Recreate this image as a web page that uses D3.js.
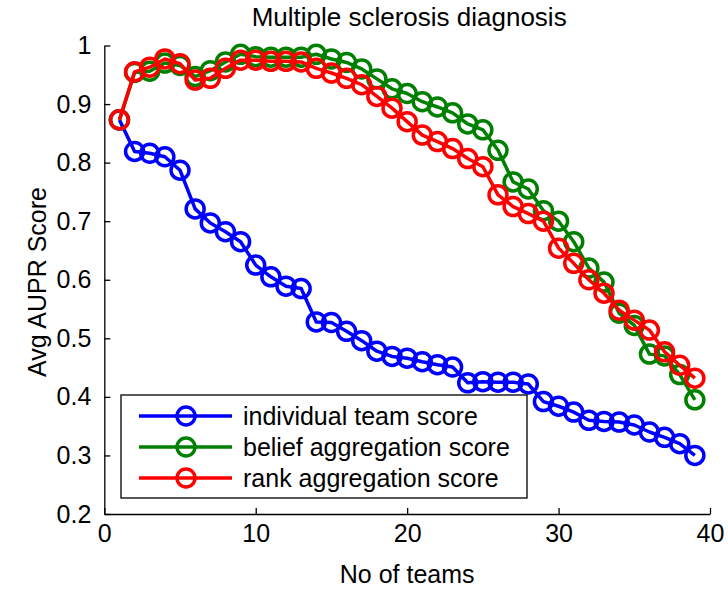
<!DOCTYPE html>
<html>
<head>
<meta charset="utf-8">
<script src="https://cdn.jsdelivr.net/npm/d3@7"></script>
<style>
  html, body { margin: 0; padding: 0; background: #fff; }
  svg text { font-family: "Liberation Sans", Arial, Helvetica, sans-serif; fill: #000; }
</style>
</head>
<body>
<svg id="chart" width="728" height="589"></svg>
<script>
// Number of teams aggregated (x values)
const teams = d3.range(1, 40);

// Average AUPR score per number of teams
const individualScore = [0.873,0.819,0.816,0.810,0.787,0.721,0.697,0.682,0.665,0.625,
  0.605,0.589,0.585,0.528,0.527,0.512,0.496,0.478,0.469,0.466,
  0.460,0.455,0.451,0.424,0.426,0.425,0.425,0.422,0.392,0.384,
  0.374,0.360,0.358,0.357,0.352,0.340,0.331,0.320,0.300];

const beliefScore = [0.873,0.954,0.956,0.970,0.966,0.947,0.957,0.972,0.985,0.981,
  0.980,0.980,0.980,0.985,0.977,0.971,0.960,0.943,0.926,0.918,
  0.904,0.895,0.885,0.866,0.856,0.821,0.767,0.755,0.718,0.700,
  0.665,0.620,0.596,0.543,0.522,0.473,0.470,0.438,0.395];

const rankScore = [0.873,0.955,0.963,0.977,0.969,0.941,0.944,0.961,0.975,0.975,
  0.973,0.973,0.972,0.961,0.953,0.944,0.933,0.913,0.893,0.870,
  0.847,0.836,0.824,0.807,0.793,0.745,0.725,0.713,0.700,0.654,
  0.628,0.600,0.577,0.548,0.531,0.514,0.477,0.454,0.432];

const seriesNames = ["individual team score", "belief aggregation score", "rank aggregation score"];
const seriesColors = ["#0000ff", "#008000", "#ff0000"];

const xTicks = [0, 10, 20, 30, 40];
const yTicks = [0.2, 0.3, 0.4, 0.5, 0.6, 0.7, 0.8, 0.9, 1];

const titleText = "Multiple sclerosis diagnosis";
const xLabel = "No of teams";
const yLabel = "Avg AUPR Score";

const series = [individualScore, beliefScore, rankScore].map((vals, i) => ({
  name: seriesNames[i],
  color: seriesColors[i],
  points: teams.map((t, j) => ({ x: t, y: vals[j] }))
}));

const svg = d3.select("#chart");

const plot = { left: 104.3, right: 710, top: 45.5, bottom: 514 };
const x = d3.scaleLinear().domain([0, 40]).range([plot.left, plot.right]);
const y = d3.scaleLinear().domain([0.2, 1]).range([plot.bottom, plot.top]);

// Axes: inward ticks, no box on top/right
const xAxis = d3.axisBottom(x).tickValues(xTicks).tickFormat(d3.format("~g"))
  .tickSizeInner(-6).tickSizeOuter(0).tickPadding(10);
const yAxis = d3.axisLeft(y).tickValues(yTicks).tickFormat(d3.format("~g"))
  .tickSizeInner(-6).tickSizeOuter(0).tickPadding(13);

const gx = svg.append("g").attr("transform", `translate(0,${plot.bottom})`).call(xAxis);
const gy = svg.append("g").attr("transform", `translate(${plot.left},0)`).call(yAxis);

[gx, gy].forEach(g => {
  g.select(".domain").attr("stroke", "#000").attr("stroke-width", 1.3);
  g.selectAll(".tick line").attr("stroke", "#000").attr("stroke-width", 1.3);
  g.selectAll(".tick text").attr("font-size", 25)
    .attr("font-family", "Liberation Sans, Arial, sans-serif").attr("fill", "#000");
});

// Lines with circle markers
const line = d3.line().x(d => x(d.x)).y(d => y(d.y));
const markerR = 9;

series.forEach(s => {
  const g = svg.append("g");
  g.append("path").datum(s.points)
    .attr("d", line).attr("fill", "none")
    .attr("stroke", s.color).attr("stroke-width", 3.5)
    .attr("stroke-linejoin", "round");
  g.selectAll("circle").data(s.points).join("circle")
    .attr("cx", d => x(d.x)).attr("cy", d => y(d.y)).attr("r", markerR)
    .attr("fill", "none").attr("stroke", s.color).attr("stroke-width", 3.5);
});

// Title and axis labels
svg.append("text").attr("x", (plot.left + plot.right) / 2 + 2).attr("y", 26)
  .attr("text-anchor", "middle").attr("font-size", 26).text(titleText);
svg.append("text").attr("x", (plot.left + plot.right) / 2).attr("y", 583)
  .attr("text-anchor", "middle").attr("font-size", 25).text(xLabel);
svg.append("text").attr("transform", `translate(46,282) rotate(-90)`)
  .attr("text-anchor", "middle").attr("font-size", 25).text(yLabel);

// Legend
const legend = svg.append("g");
legend.append("rect").attr("x", 121).attr("y", 395).attr("width", 406).attr("height", 103)
  .attr("fill", "#fff").attr("stroke", "#000").attr("stroke-width", 1.3);
series.forEach((s, i) => {
  const ly = 416 + i * 31;
  legend.append("line").attr("x1", 139).attr("x2", 232).attr("y1", ly).attr("y2", ly)
    .attr("stroke", s.color).attr("stroke-width", 3.5);
  legend.append("circle").attr("cx", 186).attr("cy", ly).attr("r", markerR)
    .attr("fill", "none").attr("stroke", s.color).attr("stroke-width", 3.5);
  legend.append("text").attr("x", 243).attr("y", ly).attr("dy", "0.36em")
    .attr("font-size", 25).text(s.name);
});
</script>
</body>
</html>
